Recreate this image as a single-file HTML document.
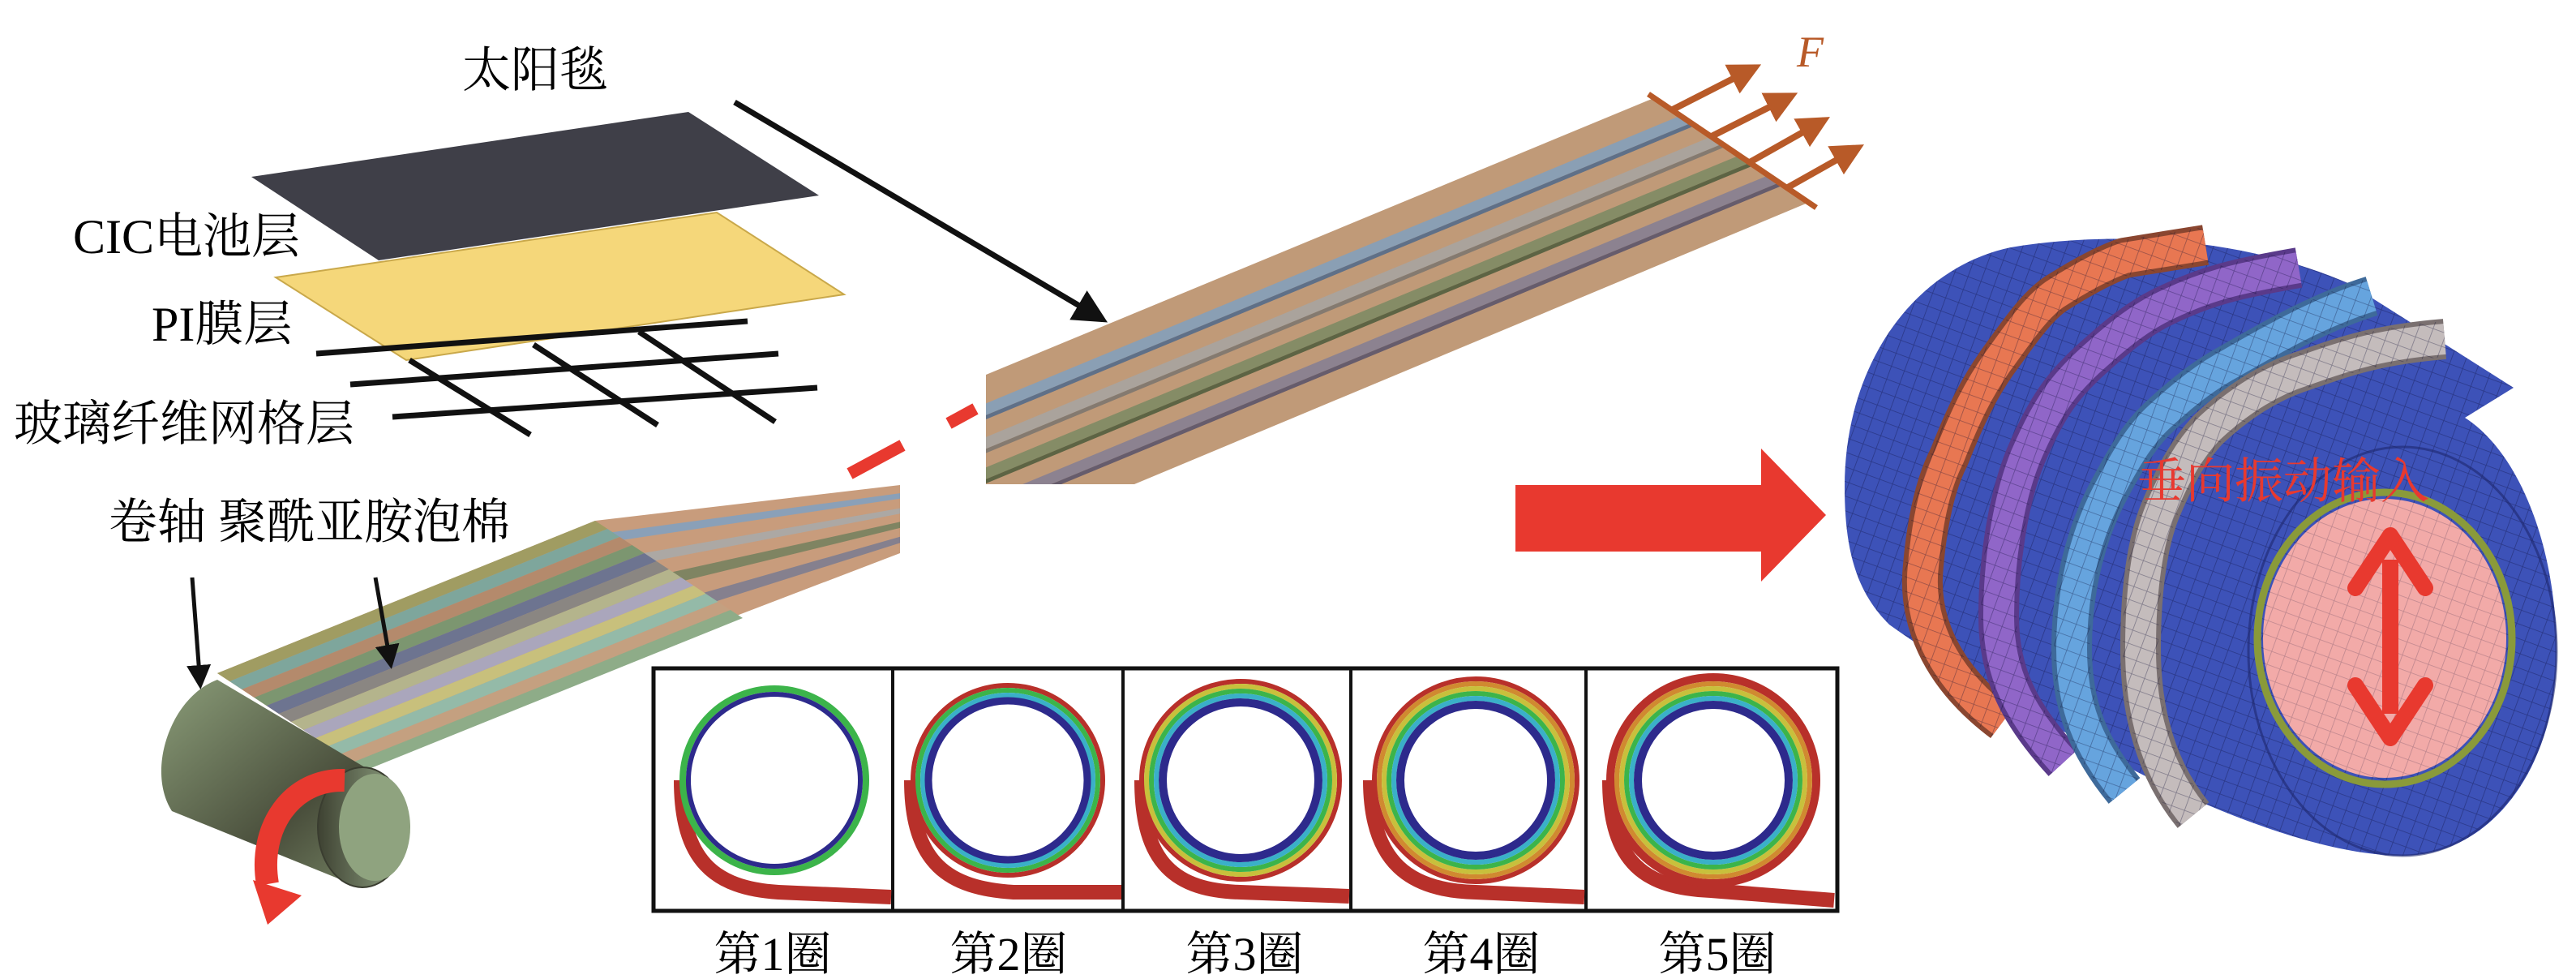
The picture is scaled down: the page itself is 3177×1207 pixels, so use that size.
<!DOCTYPE html>
<html><head><meta charset="utf-8">
<style>
html,body{margin:0;padding:0;background:#fff;}
svg{display:block;}
text{font-family:"Liberation Serif","Noto Serif CJK SC","Noto Sans CJK SC",serif;}
</style></head>
<body>
<svg width="3177" height="1207" viewBox="0 0 3177 1207" xmlns="http://www.w3.org/2000/svg">
<defs>
  <marker id="ah" markerWidth="6" markerHeight="6" refX="5" refY="3" orient="auto" markerUnits="strokeWidth">
    <path d="M0,0 L6,3 L0,6 Z" fill="#111"/>
  </marker>
  <marker id="oh" markerWidth="5" markerHeight="5" refX="4" refY="2.5" orient="auto" markerUnits="strokeWidth">
    <path d="M0,0 L5,2.5 L0,5 Z" fill="#b85a28"/>
  </marker>
  <pattern id="mesh" width="17" height="17" patternUnits="userSpaceOnUse" patternTransform="rotate(20)">
    <path d="M0,0 H17 M0,0 V17" stroke="rgba(10,10,50,0.38)" stroke-width="1.6" fill="none"/>
  </pattern>
  <linearGradient id="rol" x1="0" y1="0" x2="1" y2="1">
    <stop offset="0" stop-color="#8a9c78"/><stop offset="0.6" stop-color="#4a4f3c"/><stop offset="1" stop-color="#7e8e6c"/>
  </linearGradient>
  <linearGradient id="rol2" x1="0" y1="0" x2="1" y2="0">
    <stop offset="0" stop-color="#3e4232"/><stop offset="1" stop-color="#95a888"/>
  </linearGradient>
  <clipPath id="upclip"><polygon points="1216,462 2037,122 2232,249 1399,597 1216,597"/></clipPath>
</defs>

<!-- Labels top-left -->
<text x="570" y="107" font-size="60">太阳毯</text>
<text x="90" y="312" font-size="60">CIC电池层</text>
<text x="187" y="420" font-size="60">PI膜层</text>
<text x="17" y="543" font-size="60">玻璃纤维网格层</text>
<text x="134" y="664" font-size="60">卷轴 聚酰亚胺泡棉</text>

<!-- Plates -->
<polygon points="310,218 849,138 1010,241 467,321" fill="#3f3f48"/>
<polygon points="340,342 884,262 1041,363 501,444" fill="#f5d77a" stroke="#c9a84a" stroke-width="2"/>
<g stroke="#111" stroke-width="7">
  <line x1="390" y1="436" x2="922" y2="396"/>
  <line x1="432" y1="474" x2="960" y2="436"/>
  <line x1="484" y1="514" x2="1008" y2="478"/>
  <line x1="505" y1="444" x2="654" y2="536"/>
  <line x1="658" y1="425" x2="811" y2="524"/>
  <line x1="788" y1="409" x2="956" y2="520"/>
</g>

<line x1="906" y1="126" x2="1360" y2="394" stroke="#111" stroke-width="7" marker-end="url(#ah)"/>

<line x1="1048" y1="584" x2="1113" y2="549" stroke="#e8392f" stroke-width="15"/>
<line x1="1170" y1="522" x2="1203" y2="504" stroke="#e8392f" stroke-width="15"/>

<!-- Upper strip -->
<polygon points="1216,462 2037,122 2232,249 1399,597 1216,597" fill="#c09a78"/>
<g clip-path="url(#upclip)">
  <g transform="matrix(-821,340,195,127,2037,122)">
    <rect x="-0.2" y="0.17" width="1.6" height="0.07" fill="#8a9fb4"/>
    <rect x="-0.2" y="0.24" width="1.6" height="0.025" fill="#5f7088"/>
    <rect x="-0.2" y="0.37" width="1.6" height="0.07" fill="#aaa39c"/>
    <rect x="-0.2" y="0.44" width="1.6" height="0.025" fill="#847a70"/>
    <rect x="-0.2" y="0.55" width="1.6" height="0.07" fill="#858c66"/>
    <rect x="-0.2" y="0.62" width="1.6" height="0.025" fill="#5d6444"/>
    <rect x="-0.2" y="0.74" width="1.6" height="0.07" fill="#8c8290"/>
    <rect x="-0.2" y="0.81" width="1.6" height="0.025" fill="#665c6c"/>
  </g>
</g>
<line x1="2033" y1="116" x2="2240" y2="256" stroke="#b85a28" stroke-width="7"/>
<g stroke="#b85a28" stroke-width="8" fill="none">
  <line x1="2063" y1="135" x2="2165" y2="83" marker-end="url(#oh)"/>
  <line x1="2111" y1="168" x2="2210" y2="118" marker-end="url(#oh)"/>
  <line x1="2158" y1="200" x2="2250" y2="148" marker-end="url(#oh)"/>
  <line x1="2205" y1="231" x2="2292" y2="182" marker-end="url(#oh)"/>
</g>
<text x="2216" y="82" font-size="54" font-style="italic" fill="#b85a28">F</text>

<!-- Lower strip -->
<polygon points="268,830 734,642 1110,598 1110,682 906,760 450,950" fill="#c89c7c"/>
<polygon points="754.6,656.2 1110,608.1 1110,614.8 768.4,665.6" fill="#8aa0b8"/>
<polygon points="792.5,682.1 1110,626.6 1110,633.3 806.2,691.6" fill="#aca8a4"/>
<polygon points="826.9,705.7 1110,643.4 1110,650.9 842.4,716.3" fill="#7f8462"/>
<polygon points="864.7,731.7 1110,661.8 1110,669.4 880.2,742.3" fill="#85808e"/>
<g transform="matrix(466,-188,182,120,268,830)">
  <rect x="0" y="0" width="1" height="0.0833" fill="#a09c62"/>
  <rect x="0" y="0.0833" width="1" height="0.0833" fill="#7ea69c"/>
  <rect x="0" y="0.1667" width="1" height="0.0833" fill="#b48a6c"/>
  <rect x="0" y="0.25" width="1" height="0.0833" fill="#7c9670"/>
  <rect x="0" y="0.3333" width="1" height="0.0833" fill="#6d7490"/>
  <rect x="0" y="0.4167" width="1" height="0.0833" fill="#8a8682"/>
  <rect x="0" y="0.5" width="1" height="0.0833" fill="#b4b48c"/>
  <rect x="0" y="0.5833" width="1" height="0.0833" fill="#aaa6bc"/>
  <rect x="0" y="0.6667" width="1" height="0.0833" fill="#c8c07c"/>
  <rect x="0" y="0.75" width="1" height="0.0833" fill="#94baa8"/>
  <rect x="0" y="0.8333" width="1" height="0.0833" fill="#c4a080"/>
  <rect x="0" y="0.9167" width="1" height="0.0833" fill="#8eac88"/>
</g>

<!-- Roller -->
<path d="M268,838 C210,860 180,950 212,1000 L444,1094 A55,74 0 0 0 450,946 Z" fill="url(#rol)"/>
<ellipse cx="447" cy="1020" rx="55" ry="74" fill="url(#rol2)" stroke="#3a3d30" stroke-width="2"/>
<ellipse cx="462" cy="1020" rx="44" ry="66" fill="#8fa37f"/>
<path d="M425,962 C360,960 318,1020 330,1090" stroke="#e8392f" stroke-width="28" fill="none"/>
<polygon points="312,1085 372,1104 330,1140" fill="#e8392f"/>

<line x1="237" y1="712" x2="247" y2="845" stroke="#111" stroke-width="5" marker-end="url(#ah)"/>
<line x1="463" y1="712" x2="482" y2="820" stroke="#111" stroke-width="5" marker-end="url(#ah)"/>

<!-- Inset -->
<rect x="806" y="824" width="1460" height="299" fill="#fff" stroke="#111" stroke-width="5"/>
<g stroke="#111" stroke-width="4">
  <line x1="1101" y1="824" x2="1101" y2="1123"/>
  <line x1="1385" y1="824" x2="1385" y2="1123"/>
  <line x1="1666" y1="824" x2="1666" y2="1123"/>
  <line x1="1956" y1="824" x2="1956" y2="1123"/>
</g>
<g fill="none">
  <path d="M840,962 C840,1060 880,1095 960,1100 L1099,1106" stroke="#b8302a" stroke-width="18"/>
  <circle cx="955" cy="962" r="113" stroke="#3cb44a" stroke-width="8"/>
  <circle cx="955" cy="962" r="106" stroke="#2d2a8c" stroke-width="6"/>
  <path d="M1124,962 C1124,1065 1170,1095 1250,1100 L1383,1100" stroke="#b8302a" stroke-width="18"/>
  <circle cx="1243" cy="962" r="117" stroke="#b8302a" stroke-width="6"/>
  <circle cx="1243" cy="962" r="111" stroke="#3cb44a" stroke-width="6"/>
  <circle cx="1243" cy="962" r="105" stroke="#3ab0c8" stroke-width="6"/>
  <circle cx="1243" cy="962" r="98" stroke="#2d2a8c" stroke-width="9"/>
  <path d="M1408,962 C1408,1065 1450,1098 1530,1100 L1664,1105" stroke="#b8302a" stroke-width="18"/>
  <circle cx="1530" cy="962" r="122" stroke="#b8302a" stroke-width="6"/>
  <circle cx="1530" cy="962" r="116" stroke="#c8c03c" stroke-width="6"/>
  <circle cx="1530" cy="962" r="110" stroke="#3cb44a" stroke-width="6"/>
  <circle cx="1530" cy="962" r="104" stroke="#3ab0c8" stroke-width="6"/>
  <circle cx="1530" cy="962" r="96" stroke="#2d2a8c" stroke-width="10"/>
  <path d="M1690,962 C1690,1065 1740,1098 1820,1100 L1954,1106" stroke="#b8302a" stroke-width="18"/>
  <circle cx="1820" cy="962" r="125" stroke="#b8302a" stroke-width="6"/>
  <circle cx="1820" cy="962" r="119" stroke="#d08a30" stroke-width="6"/>
  <circle cx="1820" cy="962" r="113" stroke="#c8c03c" stroke-width="6"/>
  <circle cx="1820" cy="962" r="107" stroke="#3cb44a" stroke-width="6"/>
  <circle cx="1820" cy="962" r="101" stroke="#3ab0c8" stroke-width="6"/>
  <circle cx="1820" cy="962" r="93" stroke="#2d2a8c" stroke-width="10"/>
  <path d="M1985,962 C1985,1065 2030,1095 2110,1098 L2262,1110" stroke="#b8302a" stroke-width="18"/>
  <circle cx="2113" cy="962" r="127" stroke="#b8302a" stroke-width="10"/>
  <circle cx="2113" cy="962" r="119" stroke="#d08a30" stroke-width="6"/>
  <circle cx="2113" cy="962" r="113" stroke="#c8c03c" stroke-width="6"/>
  <circle cx="2113" cy="962" r="107" stroke="#3cb44a" stroke-width="6"/>
  <circle cx="2113" cy="962" r="101" stroke="#3ab0c8" stroke-width="6"/>
  <circle cx="2113" cy="962" r="93" stroke="#2d2a8c" stroke-width="10"/>
</g>
<g font-size="58" text-anchor="middle">
  <text x="953" y="1196">第1圈</text>
  <text x="1244" y="1196">第2圈</text>
  <text x="1535" y="1196">第3圈</text>
  <text x="1827" y="1196">第4圈</text>
  <text x="2118" y="1196">第5圈</text>
</g>

<!-- Big red arrow -->
<polygon points="1869,598 2172,598 2172,553 2252,635 2172,717 2172,680 1869,680" fill="#e8392f"/>

<!-- Right cylinder -->
<path id="sil" d="M2275,600 C2275,450 2360,330 2480,305 C2600,285 2760,290 2898,350 L3100,478 L3040,515 C3110,560 3153,680 3153,803 C3153,950 3070,1055 2963,1055 C2850,1055 2680,980 2574,918 C2470,860 2400,820 2330,770 C2290,730 2275,680 2275,600 Z" fill="#3d52b8"/>
<path d="M2275,600 C2275,450 2360,330 2480,305 C2600,285 2760,290 2898,350 L3100,478 L3040,515 C3110,560 3153,680 3153,803 C3153,950 3070,1055 2963,1055 C2850,1055 2680,980 2574,918 C2470,860 2400,820 2330,770 C2290,730 2275,680 2275,600 Z" fill="url(#mesh)"/>
<ellipse cx="2963" cy="803" rx="190" ry="252" fill="none" stroke="rgba(30,40,110,0.6)" stroke-width="3"/>
<g fill="none" stroke-linejoin="round">
  <!-- orange -->
  <path d="M2470,890 C2390,830 2365,760 2372,697 C2378,630 2390,590 2404,563 C2425,510 2440,480 2463,447 C2490,410 2510,380 2534,363 C2570,340 2600,325 2620,318 L2720,302" stroke="#8a4630" stroke-width="50"/>
  <path d="M2470,890 C2390,830 2365,760 2372,697 C2378,630 2390,590 2404,563 C2425,510 2440,480 2463,447 C2490,410 2510,380 2534,363 C2570,340 2600,325 2620,318 L2720,302" stroke="#e87752" stroke-width="38"/>
  <!-- purple -->
  <path d="M2545,940 C2490,880 2465,830 2465,760 C2465,697 2475,620 2498,563 C2525,500 2545,475 2575,447 C2610,415 2635,395 2664,380 C2720,352 2760,343 2835,330" stroke="#5a3a8a" stroke-width="50"/>
  <path d="M2545,940 C2490,880 2465,830 2465,760 C2465,697 2475,620 2498,563 C2525,500 2545,475 2575,447 C2610,415 2635,395 2664,380 C2720,352 2760,343 2835,330" stroke="#9066c8" stroke-width="38"/>
  <!-- light blue -->
  <path d="M2620,975 C2575,920 2555,870 2555,800 C2555,720 2575,650 2605,597 C2625,560 2640,535 2664,513 C2700,480 2725,462 2753,447 C2800,420 2860,385 2925,365" stroke="#3e6a9a" stroke-width="50"/>
  <path d="M2620,975 C2575,920 2555,870 2555,800 C2555,720 2575,650 2605,597 C2625,560 2640,535 2664,513 C2700,480 2725,462 2753,447 C2800,420 2860,385 2925,365" stroke="#66a4de" stroke-width="38"/>
  <!-- grey -->
  <path d="M2705,1005 C2660,950 2640,880 2640,800 C2640,720 2650,665 2664,630 C2685,580 2700,555 2723,530 C2760,495 2800,470 2841,457 C2890,440 2930,425 3015,418" stroke="#7a7070" stroke-width="50"/>
  <path d="M2705,1005 C2660,950 2640,880 2640,800 C2640,720 2650,665 2664,630 C2685,580 2700,555 2723,530 C2760,495 2800,470 2841,457 C2890,440 2930,425 3015,418" stroke="#c4bcbc" stroke-width="38"/>
  <g stroke="url(#mesh)" stroke-width="44">
    <path d="M2470,890 C2390,830 2365,760 2372,697 C2378,630 2390,590 2404,563 C2425,510 2440,480 2463,447 C2490,410 2510,380 2534,363 C2570,340 2600,325 2620,318 L2720,302"/>
    <path d="M2545,940 C2490,880 2465,830 2465,760 C2465,697 2475,620 2498,563 C2525,500 2545,475 2575,447 C2610,415 2635,395 2664,380 C2720,352 2760,343 2835,330"/>
    <path d="M2620,975 C2575,920 2555,870 2555,800 C2555,720 2575,650 2605,597 C2625,560 2640,535 2664,513 C2700,480 2725,462 2753,447 C2800,420 2860,385 2925,365"/>
    <path d="M2705,1005 C2660,950 2640,880 2640,800 C2640,720 2650,665 2664,630 C2685,580 2700,555 2723,530 C2760,495 2800,470 2841,457 C2890,440 2930,425 3015,418"/>
  </g>
</g>
<ellipse cx="2941" cy="787" rx="157" ry="180" fill="none" stroke="#8a9a3a" stroke-width="9"/>
<ellipse cx="2941" cy="787" rx="150" ry="172" fill="#f2aaa8"/>
<ellipse cx="2941" cy="787" rx="150" ry="172" fill="url(#mesh)" opacity="0.6"/>
<line x1="2948" y1="690" x2="2948" y2="880" stroke="#e8392f" stroke-width="20"/>
<polyline points="2905,725 2948,660 2991,725" fill="none" stroke="#e8392f" stroke-width="20" stroke-linejoin="round" stroke-linecap="round"/>
<polyline points="2905,845 2948,910 2991,845" fill="none" stroke="#e8392f" stroke-width="20" stroke-linejoin="round" stroke-linecap="round"/>
<text x="2636" y="614" font-size="60" fill="#e8392f">垂向振动输入</text>
</svg>
</body></html>
